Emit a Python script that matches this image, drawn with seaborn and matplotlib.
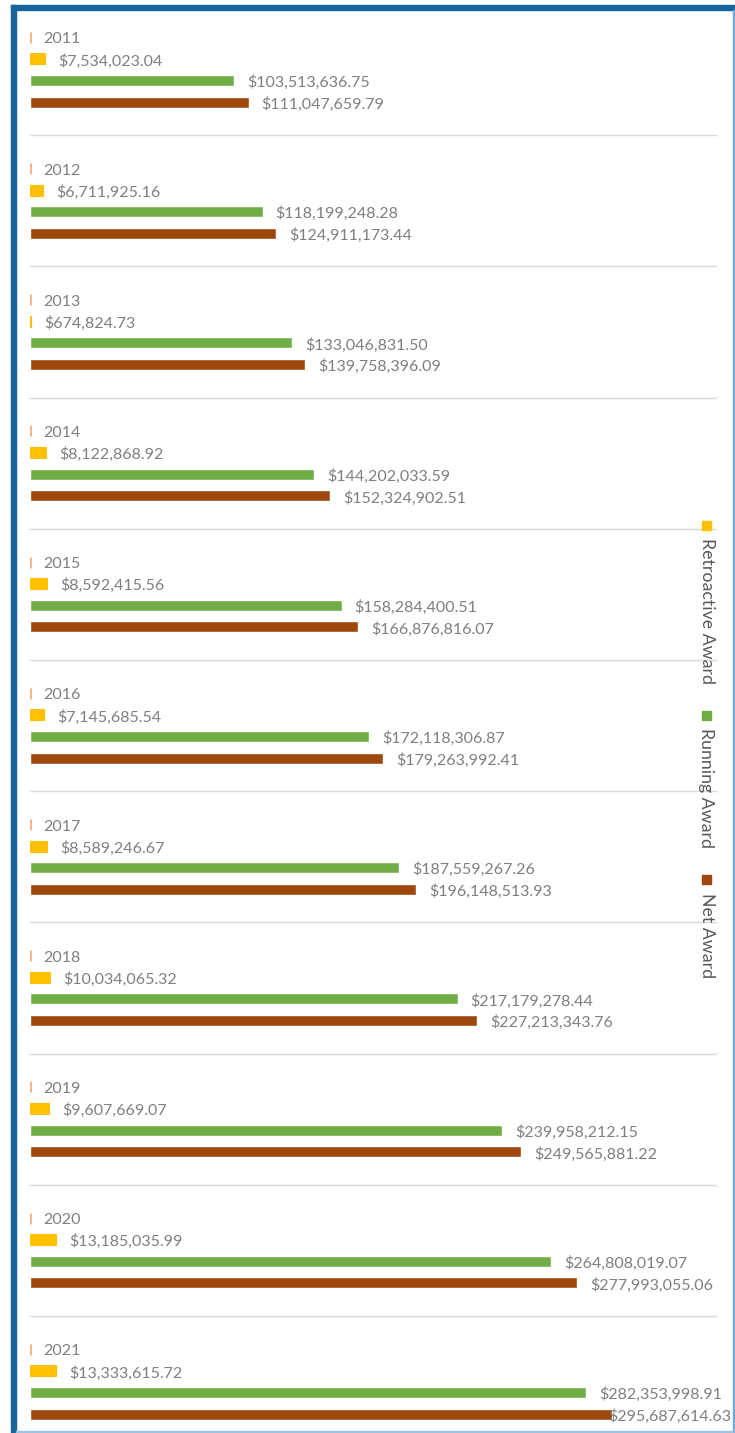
import pandas as pd
import matplotlib
matplotlib.use("Agg")
import matplotlib.pyplot as plt
import seaborn as sns
from matplotlib.patches import Rectangle

# Данные по годам
years = [2011, 2012, 2013, 2014, 2015, 2016, 2017, 2018, 2019, 2020, 2021]
retroactive = [7534023.04, 6711925.16, 674824.73, 8122868.92, 8592415.56, 7145685.54,
               8589246.67, 10034065.32, 9607669.07, 13185035.99, 13333615.72]
running = [103513636.75, 118199248.28, 133046831.50, 144202033.59, 158284400.51, 172118306.87,
           187559267.26, 217179278.44, 239958212.15, 264808019.07, 282353998.91]
net = [111047659.79, 124911173.44, 139758396.09, 152324902.51, 166876816.07, 179263992.41,
       196148513.93, 227213343.76, 249565881.22, 277993055.06, 295687614.63]

series = ['Year', 'Retroactive Award', 'Running Award', 'Net Award']
colors = ['#F4B183', '#FFC000', '#70AD47', '#9E480E']
legend_series = series[1:]
legend_colors = colors[1:]

rows = []
for i, y in enumerate(years):
    rows.append((str(y), 'Year', y))
    rows.append((str(y), 'Retroactive Award', retroactive[i]))
    rows.append((str(y), 'Running Award', running[i]))
    rows.append((str(y), 'Net Award', net[i]))
df = pd.DataFrame(rows, columns=['label', 'series', 'value'])

sns.set_theme(style='white')
plt.rcParams['font.family'] = ['Lato', 'DejaVu Sans']

W, H = 735, 1433
fig = plt.figure(figsize=(W / 100, H / 100), dpi=100)
ax = fig.add_axes([30 / W, 0, (717 - 30) / W, 1])

sns.barplot(data=df, y='label', x='value', hue='series', hue_order=series,
            palette=colors, orient='h', width=0.66, gap=0.49, saturation=1,
            legend=False, ax=ax)

ax.set_xlim(0, 349e6)
pitch = 131.2
top = 69.7
ax.set_ylim((H - top) / pitch, -top / pitch)
for s in ax.spines.values():
    s.set_visible(False)
ax.set_xticks([])
ax.set_yticks([])
ax.set_xlabel('')
ax.set_ylabel('')

# линии-разделители между годами
for i in range(len(years) - 1):
    ax.axhline(i + 0.5, color='#D9D9D9', lw=1, zorder=0)

# крошечные столбцы делаем видимыми
for p in ax.containers[0]:
    p.set_edgecolor(colors[0])
    p.set_linewidth(2)
for p in ax.containers[1]:
    p.set_edgecolor(colors[1])
    p.set_linewidth(0.8)

label_color = '#7F7F7F'
all_labels = [
    [str(y) for y in years],
    [f'${v:,.2f}' for v in retroactive],
    [f'${v:,.2f}' for v in running],
    [f'${v:,.2f}' for v in net],
]
anns = []
for cont, labs in zip(ax.containers, all_labels):
    anns += ax.bar_label(cont, labels=labs, padding=9.4, color=label_color, fontsize=11.5)

fig.canvas.draw()
for a in anns:
    dx, dy = a.xyann
    a.xyann = (dx, dy - 1.5)
    bb = a.get_window_extent()
    if bb.x1 > 731:
        a.xyann = (dx - (bb.x1 - 731) * 72 / 100, dy - 1.5)

# легенда справа, повернутый текст
leg_pos = [(525, 538), (715, 728), (879, 893)]
for (my, ty), name, c in zip(leg_pos, legend_series, legend_colors):
    fig.patches.append(Rectangle((702 / W, 1 - (my + 4.5) / H), 9 / W, 9 / H,
                                 transform=fig.transFigure, color=c))
    fig.text(706.5 / W, 1 - ty / H, name, rotation=270, ha='center', va='top',
             fontsize=12.8, color='#595959')

# рамка
fig.patches.append(Rectangle((11 / W, 0), 5 / W, 1 - 5 / H, transform=fig.transFigure,
                             color='#17659B', zorder=10))
fig.patches.append(Rectangle((11 / W, 1 - 10 / H), (735 - 11) / W, 5 / H,
                             transform=fig.transFigure, color='#17659B', zorder=10))
fig.patches.append(Rectangle((732.5 / W, 0), 1.5 / W, 1 - 10 / H, transform=fig.transFigure,
                             color='#6FA8DC', zorder=10))
fig.patches.append(Rectangle((16 / W, 1 - 1432 / H), (733 - 16) / W, 1.5 / H,
                             transform=fig.transFigure, color='#9DC3E6', zorder=10))

fig.savefig('out.png', dpi=100)
